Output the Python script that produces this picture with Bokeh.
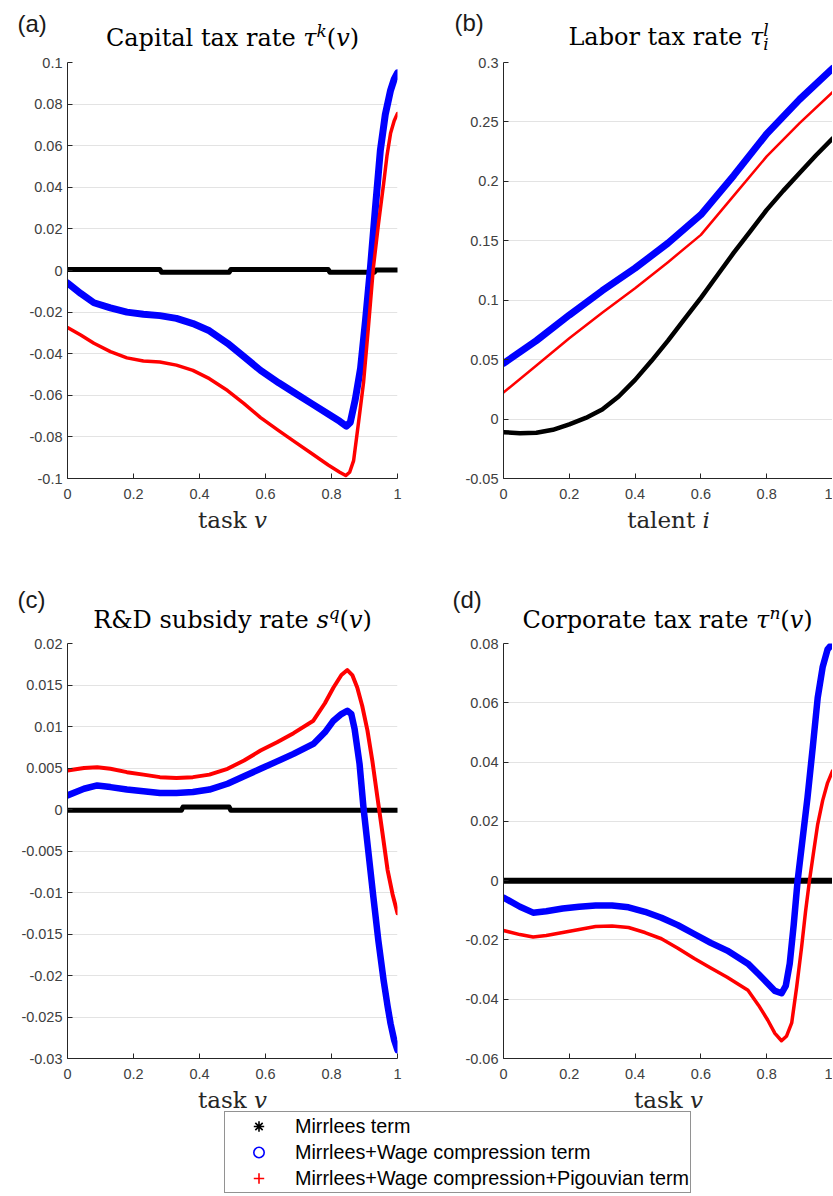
import glob
import os
from bokeh.plotting import figure
from bokeh.models import (Range1d, FixedTicker, CustomJSTickFormatter, Label,
                          Legend, LegendItem)
from bokeh.layouts import column, row
from bokeh.embed import file_html
from bokeh.resources import INLINE

# ---------------- data ----------------
X_TICKS = [0, 0.2, 0.4, 0.6, 0.8, 1]
Y_TICKS_A = [-0.1, -0.08, -0.06, -0.04, -0.02, 0, 0.02, 0.04, 0.06, 0.08, 0.1]
Y_TICKS_B = [-0.05, 0, 0.05, 0.1, 0.15, 0.2, 0.25, 0.3]
Y_TICKS_C = [-0.03, -0.025, -0.02, -0.015, -0.01, -0.005, 0, 0.005, 0.01, 0.015, 0.02]
Y_TICKS_D = [-0.06, -0.04, -0.02, 0, 0.02, 0.04, 0.06, 0.08]

SERIES_NAMES = ["Mirrlees term", "Mirrlees+Wage compression term",
                "Mirrlees+Wage compression+Pigouvian term"]

# (a) capital tax rate
A_BLACK_X = [0, 0.28, 0.285, 0.49, 0.495, 0.79, 0.795, 0.93, 0.935, 1.0]
A_BLACK_Y = [0.0005, 0.0005, -0.0008, -0.0008, 0.0005, 0.0005, -0.0008, -0.0008, 0.0002, 0.0002]
A_BLUE_X = [0, 0.04, 0.08, 0.13, 0.18, 0.23, 0.28, 0.33, 0.38, 0.43, 0.485, 0.535, 0.585,
            0.64, 0.69, 0.74, 0.79, 0.825, 0.845, 0.857, 0.872, 0.888, 0.903, 0.918, 0.933,
            0.948, 0.963, 0.979, 0.99, 1.0]
A_BLUE_Y = [-0.006, -0.011, -0.0155, -0.018, -0.020, -0.021, -0.0217, -0.023, -0.0255, -0.029,
            -0.035, -0.0415, -0.048, -0.054, -0.059, -0.064, -0.069, -0.0725, -0.0748, -0.073,
            -0.062, -0.047, -0.024, 0.0015, 0.03, 0.0577, 0.075, 0.0866, 0.092, 0.095]
A_RED_X = [0, 0.04, 0.08, 0.13, 0.18, 0.23, 0.28, 0.33, 0.38, 0.43, 0.485, 0.535, 0.585,
           0.64, 0.69, 0.74, 0.79, 0.825, 0.843, 0.855, 0.867, 0.882, 0.897, 0.912, 0.927,
           0.942, 0.958, 0.968, 0.979, 0.99, 1.0]
A_RED_Y = [-0.0274, -0.031, -0.035, -0.039, -0.042, -0.0435, -0.044, -0.0455, -0.048, -0.052,
           -0.0577, -0.064, -0.0707, -0.077, -0.0825, -0.088, -0.0935, -0.097, -0.0986, -0.097,
           -0.0914, -0.073, -0.054, -0.027, 0.0015, 0.022, 0.0418, 0.055, 0.066, 0.072, 0.0755]

# (b) labor tax rate
B_X = [0, 0.1, 0.2, 0.3, 0.4, 0.5, 0.6, 0.7, 0.8, 0.9, 1.0]
B_BLUE_Y = [0.0468, 0.066, 0.0875, 0.108, 0.127, 0.148, 0.172, 0.205, 0.240, 0.269, 0.295]
B_RED_Y = [0.0224, 0.045, 0.068, 0.0895, 0.110, 0.132, 0.155, 0.188, 0.221, 0.249, 0.275]
B_BLACK_X = [0, 0.05, 0.1, 0.15, 0.2, 0.25, 0.3, 0.35, 0.4, 0.45, 0.5, 0.55, 0.6, 0.65,
             0.7, 0.75, 0.8, 0.85, 0.9, 0.95, 1.0]
B_BLACK_Y = [-0.011, -0.012, -0.0115, -0.009, -0.0045, 0.001, 0.008, 0.019, 0.033, 0.049,
             0.066, 0.084, 0.102, 0.121, 0.140, 0.158, 0.176, 0.192, 0.207, 0.222, 0.236]

# (c) R&D subsidy rate
C_BLACK_X = [0, 0.345, 0.35, 0.49, 0.495, 1.0]
C_BLACK_Y = [-0.0001, -0.0001, 0.0003, 0.0003, -0.0001, -0.0001]
C_BLUE_X = [0, 0.05, 0.09, 0.13, 0.18, 0.23, 0.28, 0.33, 0.38, 0.43, 0.485, 0.535, 0.585,
            0.635, 0.685, 0.745, 0.78, 0.806, 0.83, 0.848, 0.86, 0.87, 0.885, 0.897, 0.912,
            0.927, 0.942, 0.958, 0.97, 0.979, 0.99, 1.0]
C_BLUE_Y = [0.0017, 0.0025, 0.0029, 0.0027, 0.0024, 0.0022, 0.0020, 0.0020, 0.0021, 0.0024,
            0.0031, 0.0040, 0.0049, 0.0058, 0.0067, 0.0079, 0.0093, 0.0107, 0.0115, 0.0119,
            0.0115, 0.0097, 0.0055, 0.0002, -0.0052, -0.0106, -0.0158, -0.0206, -0.0237,
            -0.0258, -0.0278, -0.029]
C_RED_X = [0, 0.05, 0.09, 0.13, 0.18, 0.23, 0.28, 0.33, 0.38, 0.43, 0.485, 0.535, 0.585,
           0.635, 0.685, 0.745, 0.78, 0.806, 0.83, 0.848, 0.863, 0.878, 0.893, 0.909, 0.924,
           0.939, 0.955, 0.97, 0.985, 1.0]
C_RED_Y = [0.0047, 0.0050, 0.0051, 0.0049, 0.0045, 0.0042, 0.0039, 0.0038, 0.0039, 0.0042,
           0.0049, 0.0059, 0.0071, 0.0081, 0.0092, 0.0107, 0.0128, 0.0147, 0.0162, 0.0168,
           0.0162, 0.0147, 0.0125, 0.0095, 0.0058, 0.0015, -0.003, -0.0073, -0.0102, -0.0125]

# (d) corporate tax rate
D_BLACK_X = [0, 0.5, 1.0]
D_BLACK_Y = [0, 0, 0]
D_BLUE_X = [0, 0.05, 0.09, 0.13, 0.18, 0.23, 0.28, 0.33, 0.38, 0.43, 0.48, 0.53, 0.58, 0.63,
            0.68, 0.743, 0.775, 0.803, 0.825, 0.845, 0.858, 0.87, 0.882, 0.894, 0.909, 0.924,
            0.94, 0.955, 0.97, 0.985, 1.0]
D_BLUE_Y = [-0.0057, -0.0088, -0.0108, -0.0103, -0.0094, -0.0088, -0.0084, -0.0084, -0.009,
            -0.0105, -0.0125, -0.015, -0.018, -0.021, -0.0236, -0.028, -0.0315, -0.0347,
            -0.0372, -0.038, -0.0355, -0.028, -0.015, 0.0, 0.014, 0.028, 0.045, 0.0617,
            0.072, 0.078, 0.080]
D_RED_X = [0, 0.05, 0.09, 0.13, 0.18, 0.23, 0.28, 0.33, 0.38, 0.43, 0.48, 0.53, 0.58, 0.63,
           0.68, 0.743, 0.775, 0.803, 0.825, 0.845, 0.86, 0.876, 0.891, 0.906, 0.918, 0.93,
           0.943, 0.955, 0.97, 0.985, 1.0]
D_RED_Y = [-0.0168, -0.0182, -0.019, -0.0185, -0.0175, -0.0165, -0.0155, -0.0153, -0.0158,
           -0.0175, -0.0196, -0.0228, -0.0263, -0.0295, -0.0326, -0.037, -0.042, -0.047,
           -0.0515, -0.054, -0.0525, -0.048, -0.036, -0.0225, -0.0105, 0.0, 0.010, 0.019,
           0.027, 0.033, 0.037]

# ---------------- styling helpers ----------------
SERIF = "DejaVu Serif"
SANS = "Liberation Sans"
AXIS_COLOR = "#262626"
TICK_COLOR = "#404040"
TITLE_SIZE = 24
XLABEL_SIZE = 23

_FONTS = {}


def _find_font(fname):
    for root in ("/usr/share/fonts", "/usr/local/share/fonts", os.path.expanduser("~/.fonts")):
        hits = glob.glob(os.path.join(root, "**", fname), recursive=True)
        if hits:
            return hits[0]
    return None


def text_w(text, italic, size):
    key = (italic, size)
    if key not in _FONTS:
        f = None
        try:
            from PIL import ImageFont
            path = _find_font("DejaVuSerif-Italic.ttf" if italic else "DejaVuSerif.ttf")
            if path:
                f = ImageFont.truetype(path, size)
        except Exception:
            f = None
        _FONTS[key] = f
    f = _FONTS[key]
    if f is None:
        return 0.6 * size * len(text)
    return f.getlength(text)


def _piece(p, txt, ital, sz, x, base, color):
    # text is anchored on its middle; place so the glyph baseline sits at `base`
    p.add_layout(Label(x=x, y=base - 0.35 * sz, text=txt, text_font=SERIF,
                       text_font_size=f"{sz}px",
                       text_font_style="italic" if ital else "normal",
                       text_align="left", text_baseline="middle",
                       text_color=color))


def rich_text(p, parts, cx, base, size, color="black"):
    """Math-like text made of pieces; base is the baseline (strip coords, downward)."""
    small = int(round(size * 0.7))
    laid = []
    x = 0.0
    for part in parts:
        if part[2] == "stack":
            w1 = text_w(part[0], True, small)
            w2 = text_w(part[1], True, small)
            laid.append((part[0], True, small, x, -size * 0.40))
            laid.append((part[1], True, small, x, size * 0.20))
            x += max(w1, w2)
        else:
            txt, ital, mode = part
            sz = size if mode == "n" else small
            dy = 0 if mode == "n" else (-size * 0.40 if mode == "sup" else size * 0.20)
            laid.append((txt, ital, sz, x, dy))
            x += text_w(txt, ital, sz)
    x0 = cx - x / 2.0
    for txt, ital, sz, dx, dy in laid:
        _piece(p, txt, ital, sz, x0 + dx, base + dy, color)


def tag(p, text, x, y):
    p.add_layout(Label(x=x, y=y, text=text, text_font=SANS, text_font_size="24px",
                       text_color="#1a1a1a", text_align="left", text_baseline="middle"))


def make_strip(width, height):
    s = figure(width=width, height=height, x_range=Range1d(0, width),
               y_range=Range1d(height, 0), output_backend="svg", toolbar_location=None,
               min_border=0, x_axis_type=None, y_axis_type=None)
    s.outline_line_color = None
    s.background_fill_color = "white"
    s.border_fill_color = "white"
    return s


def make_panel(width, height, mbl, mbr, mbt, mbb, y_lo, y_hi, yticks):
    p = figure(width=width, height=height, x_range=Range1d(0, 1), y_range=Range1d(y_lo, y_hi),
               output_backend="svg", toolbar_location=None,
               min_border_left=mbl, min_border_right=mbr,
               min_border_top=mbt, min_border_bottom=mbb)
    p.outline_line_color = None
    p.background_fill_color = "white"
    p.border_fill_color = "white"
    p.xgrid.visible = False
    p.ygrid.grid_line_color = "#e3e3e3"
    p.ygrid.grid_line_width = 1
    fmt = CustomJSTickFormatter(code="return String(parseFloat(tick.toPrecision(10)));")
    p.xaxis.ticker = FixedTicker(ticks=X_TICKS)
    p.yaxis.ticker = FixedTicker(ticks=yticks)
    for ax in (p.xaxis[0], p.yaxis[0]):
        ax.formatter = fmt
        ax.axis_line_color = AXIS_COLOR
        ax.axis_line_width = 1
        ax.major_tick_line_color = AXIS_COLOR
        ax.major_tick_in = 5
        ax.major_tick_out = 0
        ax.minor_tick_line_color = None
        ax.major_label_text_font = SANS
        ax.major_label_text_font_size = "14.5px"
        ax.major_label_text_color = TICK_COLOR
    p.xaxis.major_label_standoff = 10
    p.yaxis.major_label_standoff = 5
    return p


def draw(p, bx, by, ux, uy, rx, ry, wk, wb, wr):
    p.line(bx, by, line_color="black", line_width=wk, line_join="round", line_cap="round")
    p.line(ux, uy, line_color="#0000ff", line_width=wb, line_join="round", line_cap="round")
    p.line(rx, ry, line_color="#ff0000", line_width=wr, line_join="round", line_cap="round")


# ---------------- geometry ----------------
TOTAL_W = 832
LW, RW = 436, 396
ML, MR_L = 67, 39
FH_TOP, FH_BOT = 416, 415
MT, MB = 8, 28
S1_H, S2_H, S3_H = 54, 129, 109

# strip 1: panel tags and titles (a), (b)
s1 = make_strip(TOTAL_W, S1_H)
tag(s1, "(a)", 17, 23)
rich_text(s1, [("Capital tax rate ", False, "n"), ("τ", True, "n"), ("k", True, "sup"),
               ("(", False, "n"), ("v", True, "n"), (")", False, "n")], 232, 46, TITLE_SIZE)
tag(s1, "(b)", 454, 22)
rich_text(s1, [("Labor tax rate ", False, "n"), ("τ", True, "n"), ("l", "i", "stack")],
          668, 45, TITLE_SIZE)

pa = make_panel(LW, MT + FH_TOP + MB, ML, MR_L, MT, MB, -0.1, 0.1, Y_TICKS_A)
draw(pa, A_BLACK_X, A_BLACK_Y, A_BLUE_X, A_BLUE_Y, A_RED_X, A_RED_Y, 5, 7, 3.5)

pb = make_panel(RW, MT + FH_TOP + MB, ML, 0, MT, MB, -0.05, 0.3, Y_TICKS_B)
draw(pb, B_BLACK_X, B_BLACK_Y, B_X, B_BLUE_Y, B_X, B_RED_Y, 4.5, 7, 2.5)

# strip 2: x labels of top row, tags and titles (c), (d)
s2 = make_strip(TOTAL_W, S2_H)
rich_text(s2, [("task ", False, "n"), ("v", True, "n")], 232, 22, XLABEL_SIZE, AXIS_COLOR)
rich_text(s2, [("talent ", False, "n"), ("i", True, "n")], 668, 22, XLABEL_SIZE, AXIS_COLOR)
tag(s2, "(c)", 17, 93)
tag(s2, "(d)", 452, 93)
rich_text(s2, [("R&D subsidy rate ", False, "n"), ("s", True, "n"), ("q", True, "sup"),
               ("(", False, "n"), ("v", True, "n"), (")", False, "n")], 232, 122, TITLE_SIZE)
rich_text(s2, [("Corporate tax rate ", False, "n"), ("τ", True, "n"), ("n", True, "sup"),
               ("(", False, "n"), ("v", True, "n"), (")", False, "n")], 667, 122, TITLE_SIZE)

pc = make_panel(LW, MT + FH_BOT + MB, ML, MR_L, MT, MB, -0.03, 0.02, Y_TICKS_C)
draw(pc, C_BLACK_X, C_BLACK_Y, C_BLUE_X, C_BLUE_Y, C_RED_X, C_RED_Y, 5, 6.5, 4)

pd_ = make_panel(RW, MT + FH_BOT + MB, ML, 0, MT, MB, -0.06, 0.08, Y_TICKS_D)
draw(pd_, D_BLACK_X, D_BLACK_Y, D_BLUE_X, D_BLUE_Y, D_RED_X, D_RED_Y, 6, 6.5, 3.5)

# strip 3: x labels of bottom row and the legend
s3 = make_strip(TOTAL_W, S3_H)
rich_text(s3, [("task ", False, "n"), ("v", True, "n")], 232, 22, XLABEL_SIZE, AXIS_COLOR)
rich_text(s3, [("task ", False, "n"), ("v", True, "n")], 668, 22, XLABEL_SIZE, AXIS_COLOR)
r1 = s3.scatter(x=[-100], y=[-100], marker="asterisk", size=10, line_color="black",
                line_width=1.6)
r2 = s3.scatter(x=[-100], y=[-100], marker="circle", size=10, line_color="#0000ff",
                fill_color=None, line_width=1.6)
r3 = s3.scatter(x=[-100], y=[-100], marker="cross", size=10, line_color="#ff0000",
                line_width=1.6)
legend = Legend(items=[LegendItem(label=SERIES_NAMES[0], renderers=[r1]),
                       LegendItem(label=SERIES_NAMES[1], renderers=[r2]),
                       LegendItem(label=SERIES_NAMES[2], renderers=[r3])],
                location=(224, 2), orientation="vertical")
legend.border_line_color = AXIS_COLOR
legend.border_line_width = 1
legend.background_fill_color = "white"
legend.background_fill_alpha = 1
legend.label_text_font = SANS
legend.label_text_font_size = "19.8px"
legend.label_text_color = "black"
legend.padding = 1
legend.spacing = 0
legend.margin = 0
legend.glyph_width = 65
legend.glyph_height = 26
legend.label_height = 26
legend.label_standoff = 4
s3.add_layout(legend, "center")

layout = column(s1, row(pa, pb), s2, row(pc, pd_), s3)

with open("out.html", "w") as fh:
    fh.write(file_html(layout, INLINE))
